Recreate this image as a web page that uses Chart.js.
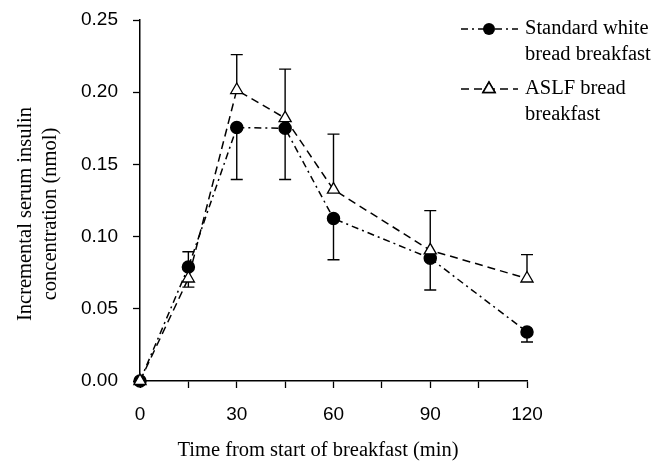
<!DOCTYPE html>
<html>
<head>
<meta charset="utf-8">
<script src="https://cdn.jsdelivr.net/npm/chart.js@4/dist/chart.umd.min.js"></script>
<style>
  html, body { margin: 0; padding: 0; background: #fff; }
  #wrap { width: 667px; height: 463px; }
</style>
</head>
<body>
<div id="wrap"><canvas id="chart" width="667" height="463"></canvas></div>
<script>
// time points (min)
const times = [0, 15, 30, 45, 60, 90, 120];
const xTickLabels = [0, 30, 60, 90, 120];

// incremental serum insulin (nmol)
const whiteBread = [0, 0.079, 0.1755, 0.175, 0.1125, 0.085, 0.034];
const aslfBread = [0, 0.071, 0.2015, 0.182, 0.1325, 0.0905, 0.071];

// error bar ends (one-sided, as drawn)
const whiteBreadErr = [null, 0.0895, 0.1395, 0.1395, 0.084, 0.063, 0.027];
const aslfBreadErr = [null, 0.065, 0.226, 0.216, 0.171, 0.118, 0.0875];

const legendLabels = [
  ["Standard white", "bread breakfast"],
  ["ASLF bread", "breakfast"]
];
const yTitle = ["Incremental serum insulin", "concentration (nmol)"];
const xTitle = "Time from start of breakfast (min)";

const serif = "'Liberation Serif', 'Times New Roman', serif";
const sans = "'Liberation Sans', Arial, sans-serif";

const toPoints = (vals) => times.map((t, i) => ({ x: t, y: vals[i] }));

// vertical error bars with caps
const errorBars = {
  id: "errorBars",
  beforeDatasetsDraw(chart) {
    const { ctx, scales } = chart;
    const sx = scales.x, sy = scales.y;
    ctx.save();
    ctx.strokeStyle = "#000";
    ctx.lineWidth = 1.4;
    ctx.setLineDash([]);
    [[whiteBread, whiteBreadErr], [aslfBread, aslfBreadErr]].forEach(([vals, ends]) => {
      times.forEach((t, i) => {
        if (ends[i] == null) return;
        const x = sx.getPixelForValue(t);
        const y0 = sy.getPixelForValue(vals[i]);
        const y1 = sy.getPixelForValue(ends[i]);
        ctx.beginPath();
        ctx.moveTo(x, y0);
        ctx.lineTo(x, y1);
        ctx.moveTo(x - 6, y1);
        ctx.lineTo(x + 6, y1);
        ctx.stroke();
      });
    });
    ctx.restore();
  }
};

// axis titles, placed where the original has them (not centred on the plot)
const axisTitles = {
  id: "axisTitles",
  afterDraw(chart) {
    const ctx = chart.ctx;
    ctx.save();
    ctx.fillStyle = "#000";
    ctx.font = "20.5px " + serif;
    ctx.textAlign = "center";
    ctx.textBaseline = "middle";
    ctx.fillText(xTitle, 318, 451);
    ctx.translate(26, 214);
    ctx.rotate(-Math.PI / 2);
    yTitle.forEach((line, j) => ctx.fillText(line, 0, j * 25));
    ctx.restore();
  }
};

// legend drawn at top right
const sideLegend = {
  id: "sideLegend",
  afterDraw(chart) {
    const ctx = chart.ctx;
    const rows = [
      { y: 29, dash: [7, 4, 2, 4], style: "circle" },
      { y: 89, dash: [8, 5], style: "triangle" }
    ];
    ctx.save();
    rows.forEach((r, k) => {
      ctx.strokeStyle = "#000";
      ctx.lineWidth = 1.5;
      ctx.setLineDash(r.dash);
      ctx.beginPath();
      ctx.moveTo(461, r.y);
      ctx.lineTo(518, r.y);
      ctx.stroke();
      ctx.setLineDash([]);
      if (r.style === "circle") {
        ctx.fillStyle = "#000";
        ctx.beginPath();
        ctx.arc(489, r.y, 6, 0, Math.PI * 2);
        ctx.fill();
      } else {
        Chart.helpers.drawPoint(ctx, {
          pointStyle: "triangle", radius: 7, borderWidth: 1.3
        }, 489, r.y);
        ctx.fillStyle = "#fff";
        ctx.fill();
        ctx.stroke();
      }
      ctx.fillStyle = "#000";
      ctx.font = "20.5px " + serif;
      ctx.textBaseline = "middle";
      ctx.textAlign = "left";
      legendLabels[k].forEach((line, j) => {
        ctx.fillText(line, 525, r.y + j * 26);
      });
    });
    ctx.restore();
  }
};

new Chart(document.getElementById("chart"), {
  type: "line",
  data: {
    datasets: [
      {
        label: legendLabels[0].join(" "),
        data: toPoints(whiteBread),
        borderColor: "#000",
        borderWidth: 1.5,
        borderDash: [7, 4, 2, 4],
        pointStyle: "circle",
        pointRadius: 6,
        pointBackgroundColor: "#000",
        pointBorderColor: "#000",
        tension: 0,
        clip: false,
        order: 2
      },
      {
        label: legendLabels[1].join(" "),
        data: toPoints(aslfBread),
        borderColor: "#000",
        borderWidth: 1.5,
        borderDash: [8, 5],
        pointStyle: "triangle",
        pointRadius: 7,
        pointBorderWidth: 1.3,
        pointBackgroundColor: "#fff",
        pointBorderColor: "#000",
        tension: 0,
        clip: false,
        order: 1
      }
    ]
  },
  options: {
    responsive: false,
    animation: false,
    layout: { padding: { top: 20, right: 140, bottom: 0, left: 81 } },
    plugins: {
      legend: { display: false },
      tooltip: { enabled: false }
    },
    scales: {
      x: {
        type: "linear",
        min: 0,
        max: 120,
        afterFit: (scale) => { scale.height = 82; },
        border: { color: "#000", width: 1.5 },
        grid: { drawOnChartArea: false, color: "#000", tickLength: 7, tickWidth: 1.3 },
        ticks: {
          stepSize: 15,
          padding: 15,
          color: "#000",
          font: { family: sans, size: 19 },
          maxRotation: 0,
          callback: (v) => (xTickLabels.includes(v) ? String(v) : "")
        }
      },
      y: {
        min: 0,
        max: 0.25,
        afterFit: (scale) => { scale.width = 59; },
        border: { color: "#000", width: 1.5 },
        grid: { drawOnChartArea: false, color: "#000", tickLength: 7, tickWidth: 1.3 },
        ticks: {
          stepSize: 0.05,
          padding: 15,
          color: "#000",
          // small lineHeight so the label padding doesn't push the plot top down
          font: { family: sans, size: 19, lineHeight: 0.5 },
          callback: (v) => v.toFixed(2)
        }
      }
    }
  },
  plugins: [errorBars, axisTitles, sideLegend]
});
</script>
</body>
</html>
